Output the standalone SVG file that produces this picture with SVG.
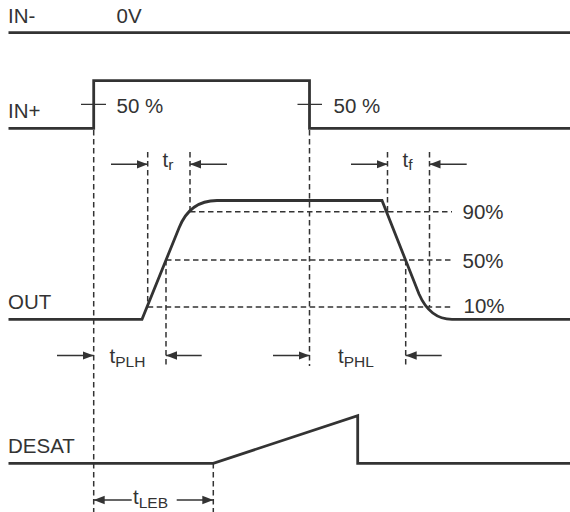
<svg xmlns="http://www.w3.org/2000/svg" width="570" height="512" viewBox="0 0 570 512">
<style>
.sig{fill:none;stroke:#333;stroke-width:2.8;stroke-linejoin:miter}
.dash{fill:none;stroke:#333;stroke-width:1.5;stroke-dasharray:5.5 3.5}
.arr{fill:none;stroke:#333;stroke-width:1.6}
.tick{fill:none;stroke:#333;stroke-width:1.4}
text{font-family:"Liberation Sans",Arial,sans-serif;font-size:20.5px;fill:#333}
.sub{font-size:15.5px}
</style>
<defs>
<marker id="ah" markerWidth="12" markerHeight="10" refX="11" refY="5" orient="auto" markerUnits="userSpaceOnUse">
<path d="M0,0.8 L11,5 L0,9.2 Z" fill="#333"/>
</marker>
</defs>
<rect width="570" height="512" fill="#fff"/>
<g id="in-minus">
<path class="sig" d="M8.5,32.7 L570,32.7"/>
<text x="8" y="23">IN-</text>
<text x="116.5" y="23">0V</text>
</g>
<g id="in-plus">
<path class="sig" d="M8.5,128.3 L93.7,128.3 L93.7,80.7 L309.5,80.7 L309.5,128.3 L570,128.3"/>
<path class="tick" d="M81,104.4 L106,104.4 M297.5,104.4 L322,104.4"/>
<text x="8" y="118">IN+</text>
<text x="116.5" y="113">50 %</text>
<text x="333.5" y="113">50 %</text>
</g>
<g id="out">
<path class="sig" d="M8.5,319.3 L142,319.3 L179,228 Q190,200 218,200.5 L382,200.5 L419,294 Q430,319.3 452,319.3 L570,319.3"/>
<text x="8" y="309">OUT</text>
<text x="462.5" y="219">90%</text>
<text x="462.5" y="267.7">50%</text>
<text x="463.5" y="313.3">10%</text>
</g>
<g id="desat">
<path class="sig" d="M8.5,463.3 L213.3,463.3 L357.7,415.7 L357.7,463.3 L570,463.3"/>
<text x="8" y="453">DESAT</text>
</g>
<g id="guides">
<path class="dash" d="M93.7,130 L93.7,512 M309.5,130 L309.5,366 M147.7,152 L147.7,305 M190,152 L190,211.7 M166,260 L166,368 M387.5,152 L387.5,211.7 M429.5,152 L429.5,307 M405.7,260 L405.7,368 M213.3,463 L213.3,512"/>
<path class="dash" d="M190,211.7 L452,211.7 M166,260 L452,260 M147.7,307 L452,307"/>
</g>
<g id="connectors">
<path class="arr" marker-end="url(#ah)" d="M111,164.3 L147.7,164.3"/>
<path class="arr" marker-end="url(#ah)" d="M227,164.3 L190,164.3"/>
<path class="arr" marker-end="url(#ah)" d="M351,164.3 L387.5,164.3"/>
<path class="arr" marker-end="url(#ah)" d="M466.7,164.3 L429.5,164.3"/>
<path class="arr" marker-end="url(#ah)" d="M57,355.5 L93.7,355.5"/>
<path class="arr" marker-end="url(#ah)" d="M201.7,355.5 L166,355.5"/>
<path class="arr" marker-end="url(#ah)" d="M273,355.5 L309.5,355.5"/>
<path class="arr" marker-end="url(#ah)" d="M441.7,355.5 L405.7,355.5"/>
<path class="arr" marker-end="url(#ah)" d="M131.7,500 L93.7,500"/>
<path class="arr" marker-end="url(#ah)" d="M176.7,500 L213.3,500"/>
</g>
<g id="labels">
<text x="162.5" y="167">t<tspan class="sub" dy="2.5">r</tspan></text>
<text x="402.5" y="167">t<tspan class="sub" dy="2.5">f</tspan></text>
<text x="109.5" y="363">t<tspan class="sub" dy="4.3">PLH</tspan></text>
<text x="338" y="363">t<tspan class="sub" dy="4.3">PHL</tspan></text>
<text x="133" y="504">t<tspan class="sub" dy="4.3">LEB</tspan></text>
</g>
</svg>
